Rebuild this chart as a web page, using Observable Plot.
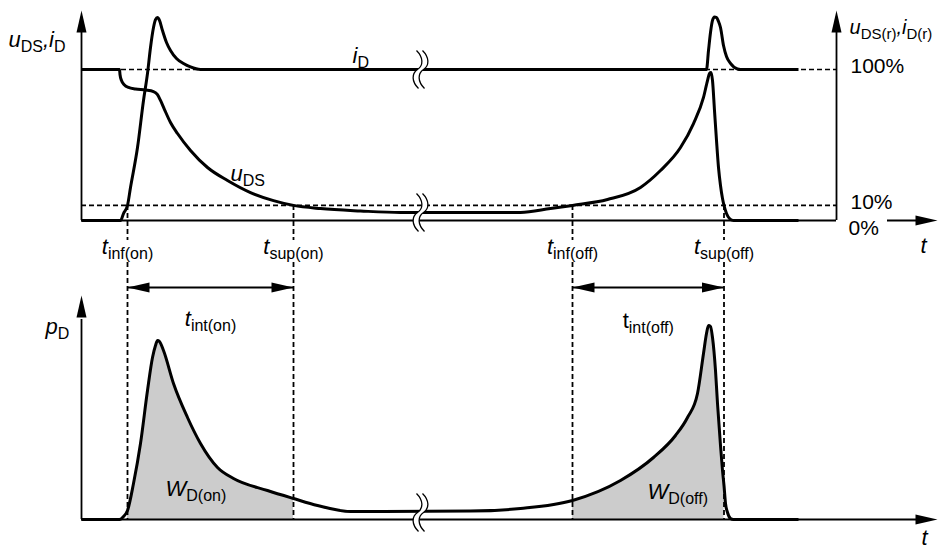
<!DOCTYPE html>
<html>
<head>
<meta charset="utf-8">
<script src="https://cdn.jsdelivr.net/npm/d3@7"></script>
<script src="https://cdn.jsdelivr.net/npm/@observablehq/plot@0.6"></script>
<style>
  html, body { margin: 0; padding: 0; background: #fff; }
  #chart { width: 938px; height: 549px; overflow: hidden; }
  #chart svg { display: block; }
</style>
</head>
<body>
<div id="chart"></div>
<script>
// Switching waveforms of a power MOSFET: drain-source voltage, drain current
// and the resulting instantaneous power loss with the switching energies.

// Time axis (arbitrary units)
const tInfOn = 9.2, tSupOn = 42.4;     // 10 % limits of the turn-on interval
const tInfOff = 98.2, tSupOff = 128.5; // 10 % limits of the turn-off interval
const tBreak = 67.8;                   // time-axis interruption
const tRightAxis = 151;                // reference (%) axis
const tAxisEnd = 171.2;                // tip of the time axes
const instants = [tInfOn, tSupOn, tInfOff, tSupOff];

// Reference levels, % of u_DS(r) / i_D(r)
const levels = [100, 10];

// Drain current i_D, [t, % of i_D(r)]
const iD = [
  [0, 0], [7.8, 0], [8.4, 4.6], [9.2, 10], [9.8, 21.9], [11.2, 48.3], [12.4, 79.5],
  [13.2, 97.4], [13.8, 114.6], [14.4, 127.8], [14.8, 133], [15.2, 134.4], [15.6, 132.5],
  [16.2, 125.8], [17.0, 117.9], [17.8, 112.6], [19.0, 107.3], [20.4, 104], [21.8, 101.7],
  [23.8, 100], [60, 100], [100, 100], [125, 100], [125.4, 112.6], [125.8, 124.5],
  [126.2, 132.5], [126.6, 134.8], [127, 134.4], [127.4, 131.8], [127.8, 127.8],
  [128.4, 115.9], [129, 108.6], [129.8, 104], [131.2, 100.3], [131.8, 100], [143.4, 100]
];

// Drain-source voltage u_DS, [t, % of u_DS(r)]
const uDS = [
  [0, 100], [7.6, 100], [7.7, 96.7], [8.0, 92.7], [8.6, 89.7], [9.4, 88.1], [10.8, 87.1],
  [12.8, 86.4], [14.4, 85.4], [15.2, 83.4], [15.8, 79.5], [16.6, 73.5], [17.8, 64.9],
  [19.2, 57.6], [21.8, 46.4], [25.2, 35.1], [29.2, 26.5], [33.8, 18.5], [38.4, 13.2],
  [42.4, 10], [47.8, 7.9], [55.8, 6.3], [63.8, 5.3], [87.8, 5.3], [93.8, 7.9],
  [98.2, 10], [105.2, 13.9], [111.8, 21.9], [115.8, 33.1], [119.8, 48.3], [122.4, 64.2],
  [124.4, 81.5], [125.2, 92.7], [125.6, 97.4], [125.9, 98], [126.2, 92.7], [126.6, 72.8],
  [127, 53], [127.4, 35.1], [127.8, 23.2], [128.2, 14.6], [128.5, 10], [129, 4.6],
  [129.6, 1.3], [130.4, 0], [143.4, 0]
];

// Power loss p_D, [t, relative units]
const pD = [
  [0, 0], [7.6, 0], [8.4, 1.5], [9.2, 4.5], [10.4, 18], [11.8, 38], [13.2, 64.5],
  [14.2, 81], [14.8, 87], [15.2, 89.5], [15.6, 89], [16.4, 84.5], [18.4, 68], [21.2, 51],
  [23.8, 38], [27.2, 26], [30.4, 20.5], [37.2, 14.5], [42.4, 10.5], [47.2, 7], [53.8, 4],
  [60.4, 4], [77.8, 4.2], [87.8, 5.5], [98.2, 9.5], [107.8, 19.5], [114.4, 31], [118.8, 42],
  [121.2, 51], [123.2, 63], [124.4, 83], [125, 93], [125.4, 97], [125.8, 96.5], [126.2, 91],
  [126.8, 74.5], [127.2, 58], [127.8, 37], [128.2, 24.5], [128.5, 17], [128.8, 8],
  [129.2, 3.5], [129.8, 0.5], [130.4, 0], [143.4, 0]
];

// Annotations
const topItalic = [
  {t: -14.6, v: 115.2, text: "u_{DS},i_{D}"},
  {t: 54.2, v: 104.6, text: "i_{D}"},
  {t: 29.8, v: 26, text: "u_{DS}"}
];
const rightAxisTitle = [
  {t: 153.6, v: 123.8, text: "u_{DS(r)},i_{D(r)}"}
];
const topTimes = [
  {t: tInfOn, v: -21.9, text: "t_{inf(on)}"},
  {t: tSupOn, v: -21.9, text: "t_{sup(on)}"},
  {t: tInfOff, v: -21.9, text: "t_{inf(off)}"},
  {t: tSupOff, v: -21.9, text: "t_{sup(off)}"},
  {t: 168.4, v: -21.2, text: "t"}
];
const percentLabels = [
  {t: 153.8, v: 98, text: "100%"},
  {t: 153.8, v: 7.9, text: "10%"},
  {t: 153.4, v: -9.9, text: "0%"}
];
const bottomItalic = [
  {t: -7.2, v: 93, text: "p_{D}"},
  {t: 16.8, v: 12, text: "W_{D(on)}"},
  {t: 113.2, v: 10.5, text: "W_{D(off)}"}
];
const bottomCenteredItalic = [
  {t: (tInfOn + tSupOn) / 2, v: 97, text: "t_{int(on)}"},
  {t: 168.6, v: -12.5, text: "t"}
];
const bottomCenteredUpright = [
  {t: (tInfOff + tSupOff) / 2, v: 96, text: "t_{int(off)}"}
];

const FONT = '"Liberation Sans", Arial, Helvetica, sans-serif';
const X = {domain: [0, 171.4], range: [81, 938], axis: null};
const dash = "5,3";

// Filled arrowhead, tip at the anchor, pointing up before rotation
const arrowHead = {
  draw(ctx) { ctx.moveTo(0, 0); ctx.lineTo(5, 22); ctx.lineTo(-5, 22); ctx.closePath(); }
};
// Axis interruption: two parallel S-strokes; the mask blanks the gap between them
const H = 19;
const breakMask = {
  draw(ctx) {
    ctx.moveTo(-4, -H);
    ctx.bezierCurveTo(3, -12, 3, -4, -3, 0);
    ctx.bezierCurveTo(-9, 4, -9, 12, -2, H);
    ctx.lineTo(4, H);
    ctx.bezierCurveTo(-3, 12, -3, 4, 3, 0);
    ctx.bezierCurveTo(9, -4, 9, -12, 2, -H);
    ctx.closePath();
  }
};
const breakStrokes = {
  draw(ctx) {
    for (const o of [-3, 3]) {
      ctx.moveTo(o - 1, -H);
      ctx.bezierCurveTo(o + 6, -12, o + 6, -4, o, 0);
      ctx.bezierCurveTo(o - 6, 4, o - 6, 12, o + 1, H);
    }
  }
};

const curve = (data) => Plot.line(data, {
  x: d => d[0], y: d => d[1], curve: "monotone-x",
  stroke: "black", strokeWidth: 3, strokeLinejoin: "round", strokeLinecap: "butt"
});
const labels = (data, opts) => Plot.text(data, {
  x: "t", y: "v", text: "text", lineAnchor: "bottom", fontSize: 22, fill: "black", ...opts
});

const style = {fontFamily: FONT, background: "white", color: "black", overflow: "visible"};

// ---- upper diagram: u_DS and i_D ----
const upper = Plot.plot({
  width: 938, height: 262, margin: 0, style,
  x: X,
  y: {domain: [0, 100], range: [220, 69], axis: null},
  marks: [
    Plot.ruleY(levels, {x1: 0, x2: tRightAxis, strokeDasharray: dash, strokeWidth: 1.6}),
    Plot.ruleX(instants, {y1: 10, y2: -13.2, strokeDasharray: dash, strokeWidth: 1.8}),
    Plot.ruleX([0, tRightAxis], {y1: 0, y2: 125, strokeWidth: 1.8}),
    Plot.ruleY([0], {x1: 0, x2: tRightAxis, strokeWidth: 1.8}),
    Plot.ruleY([0], {x1: 161.2, x2: 169, strokeWidth: 1.8}),
    curve(iD),
    curve(uDS),
    Plot.dot([{t: tBreak, v: 100}, {t: tBreak, v: 5.3}], {x: "t", y: "v", symbol: breakMask, fill: "white", stroke: "none"}),
    Plot.dot([{t: tBreak, v: 100}, {t: tBreak, v: 5.3}], {x: "t", y: "v", symbol: breakStrokes, fill: "none", stroke: "black", strokeWidth: 1.3}),
    Plot.dot([{t: 0, v: 139, a: 0}, {t: tRightAxis, v: 139, a: 0}, {t: tAxisEnd, v: 0, a: 90}],
      {x: "t", y: "v", rotate: "a", symbol: arrowHead, fill: "black", stroke: "none"}),
    labels(topItalic, {textAnchor: "start", fontStyle: "italic"}),
    labels(rightAxisTitle, {textAnchor: "start", fontStyle: "italic", fontSize: 20}),
    labels(topTimes, {textAnchor: "middle", fontStyle: "italic"}),
    labels(percentLabels, {textAnchor: "start", fontStyle: "normal", fontSize: 21})
  ]
});

// ---- lower diagram: p_D and switching energies ----
const lower = Plot.plot({
  width: 938, height: 287, marginTop: 0, marginBottom: 30, marginLeft: 0, marginRight: 0, style,
  x: X,
  y: {domain: [0, 128.5], axis: null},
  marks: [
    Plot.areaY(pD.filter(d => d[0] >= tInfOn && d[0] <= tSupOn), {x: d => d[0], y: d => d[1], curve: "monotone-x", fill: "#cccccc"}),
    Plot.areaY(pD.filter(d => d[0] >= tInfOff && d[0] <= tSupOff), {x: d => d[0], y: d => d[1], curve: "monotone-x", fill: "#cccccc"}),
    Plot.ruleX(instants, {strokeDasharray: dash, strokeWidth: 1.8}),
    Plot.ruleX([0], {y1: 0, y2: 100, strokeWidth: 1.8}),
    Plot.ruleY([0], {x1: 0, x2: 169, strokeWidth: 1.8}),
    curve(pD),
    Plot.ruleY([{a: tInfOn, b: tSupOn}, {a: tInfOff, b: tSupOff}], {x1: "a", x2: "b", y: 116, strokeWidth: 2}),
    Plot.dot([{t: tBreak, v: 3.5}], {x: "t", y: "v", symbol: breakMask, fill: "white", stroke: "none"}),
    Plot.dot([{t: tBreak, v: 3.5}], {x: "t", y: "v", symbol: breakStrokes, fill: "none", stroke: "black", strokeWidth: 1.3}),
    Plot.dot([
        {t: 0, v: 112, a: 0}, {t: tAxisEnd, v: 0, a: 90},
        {t: tInfOn, v: 116, a: -90}, {t: tSupOn, v: 116, a: 90},
        {t: tInfOff, v: 116, a: -90}, {t: tSupOff, v: 116, a: 90}
      ],
      {x: "t", y: "v", rotate: "a", symbol: arrowHead, fill: "black", stroke: "none"}),
    labels(bottomItalic, {textAnchor: "start", fontStyle: "italic"}),
    labels(bottomCenteredItalic, {textAnchor: "middle", fontStyle: "italic"}),
    labels(bottomCenteredUpright, {textAnchor: "middle", fontStyle: "normal"})
  ]
});

// Turn "x_{sub}" notation in the labels into subscript tspans,
// sized relative to the font size of the label's mark
function subscripts(svg) {
  const NS = "http://www.w3.org/2000/svg";
  svg.querySelectorAll("text").forEach(el => {
    const s = el.textContent;
    if (!s.includes("_{")) return;
    const g = el.closest("[font-size]");
    const main = g ? parseFloat(g.getAttribute("font-size")) : 22;
    const sub = Math.round(main * 0.73);
    const shift = Math.round(main * 0.23);
    const parts = s.split(/(_\{[^}]*\})/).filter(p => p);
    el.textContent = "";
    let low = false;
    for (const p of parts) {
      const ts = document.createElementNS(NS, "tspan");
      if (p.startsWith("_{")) {
        ts.textContent = p.slice(2, -1);
        ts.setAttribute("font-size", sub);
        ts.setAttribute("font-style", "normal");
        if (!low) { ts.setAttribute("dy", shift); low = true; }
      } else {
        ts.textContent = p;
        if (low) { ts.setAttribute("dy", -shift); low = false; }
      }
      el.appendChild(ts);
    }
  });
}
subscripts(upper);
subscripts(lower);

const root = document.getElementById("chart");
root.appendChild(upper);
root.appendChild(lower);
</script>
</body>
</html>
